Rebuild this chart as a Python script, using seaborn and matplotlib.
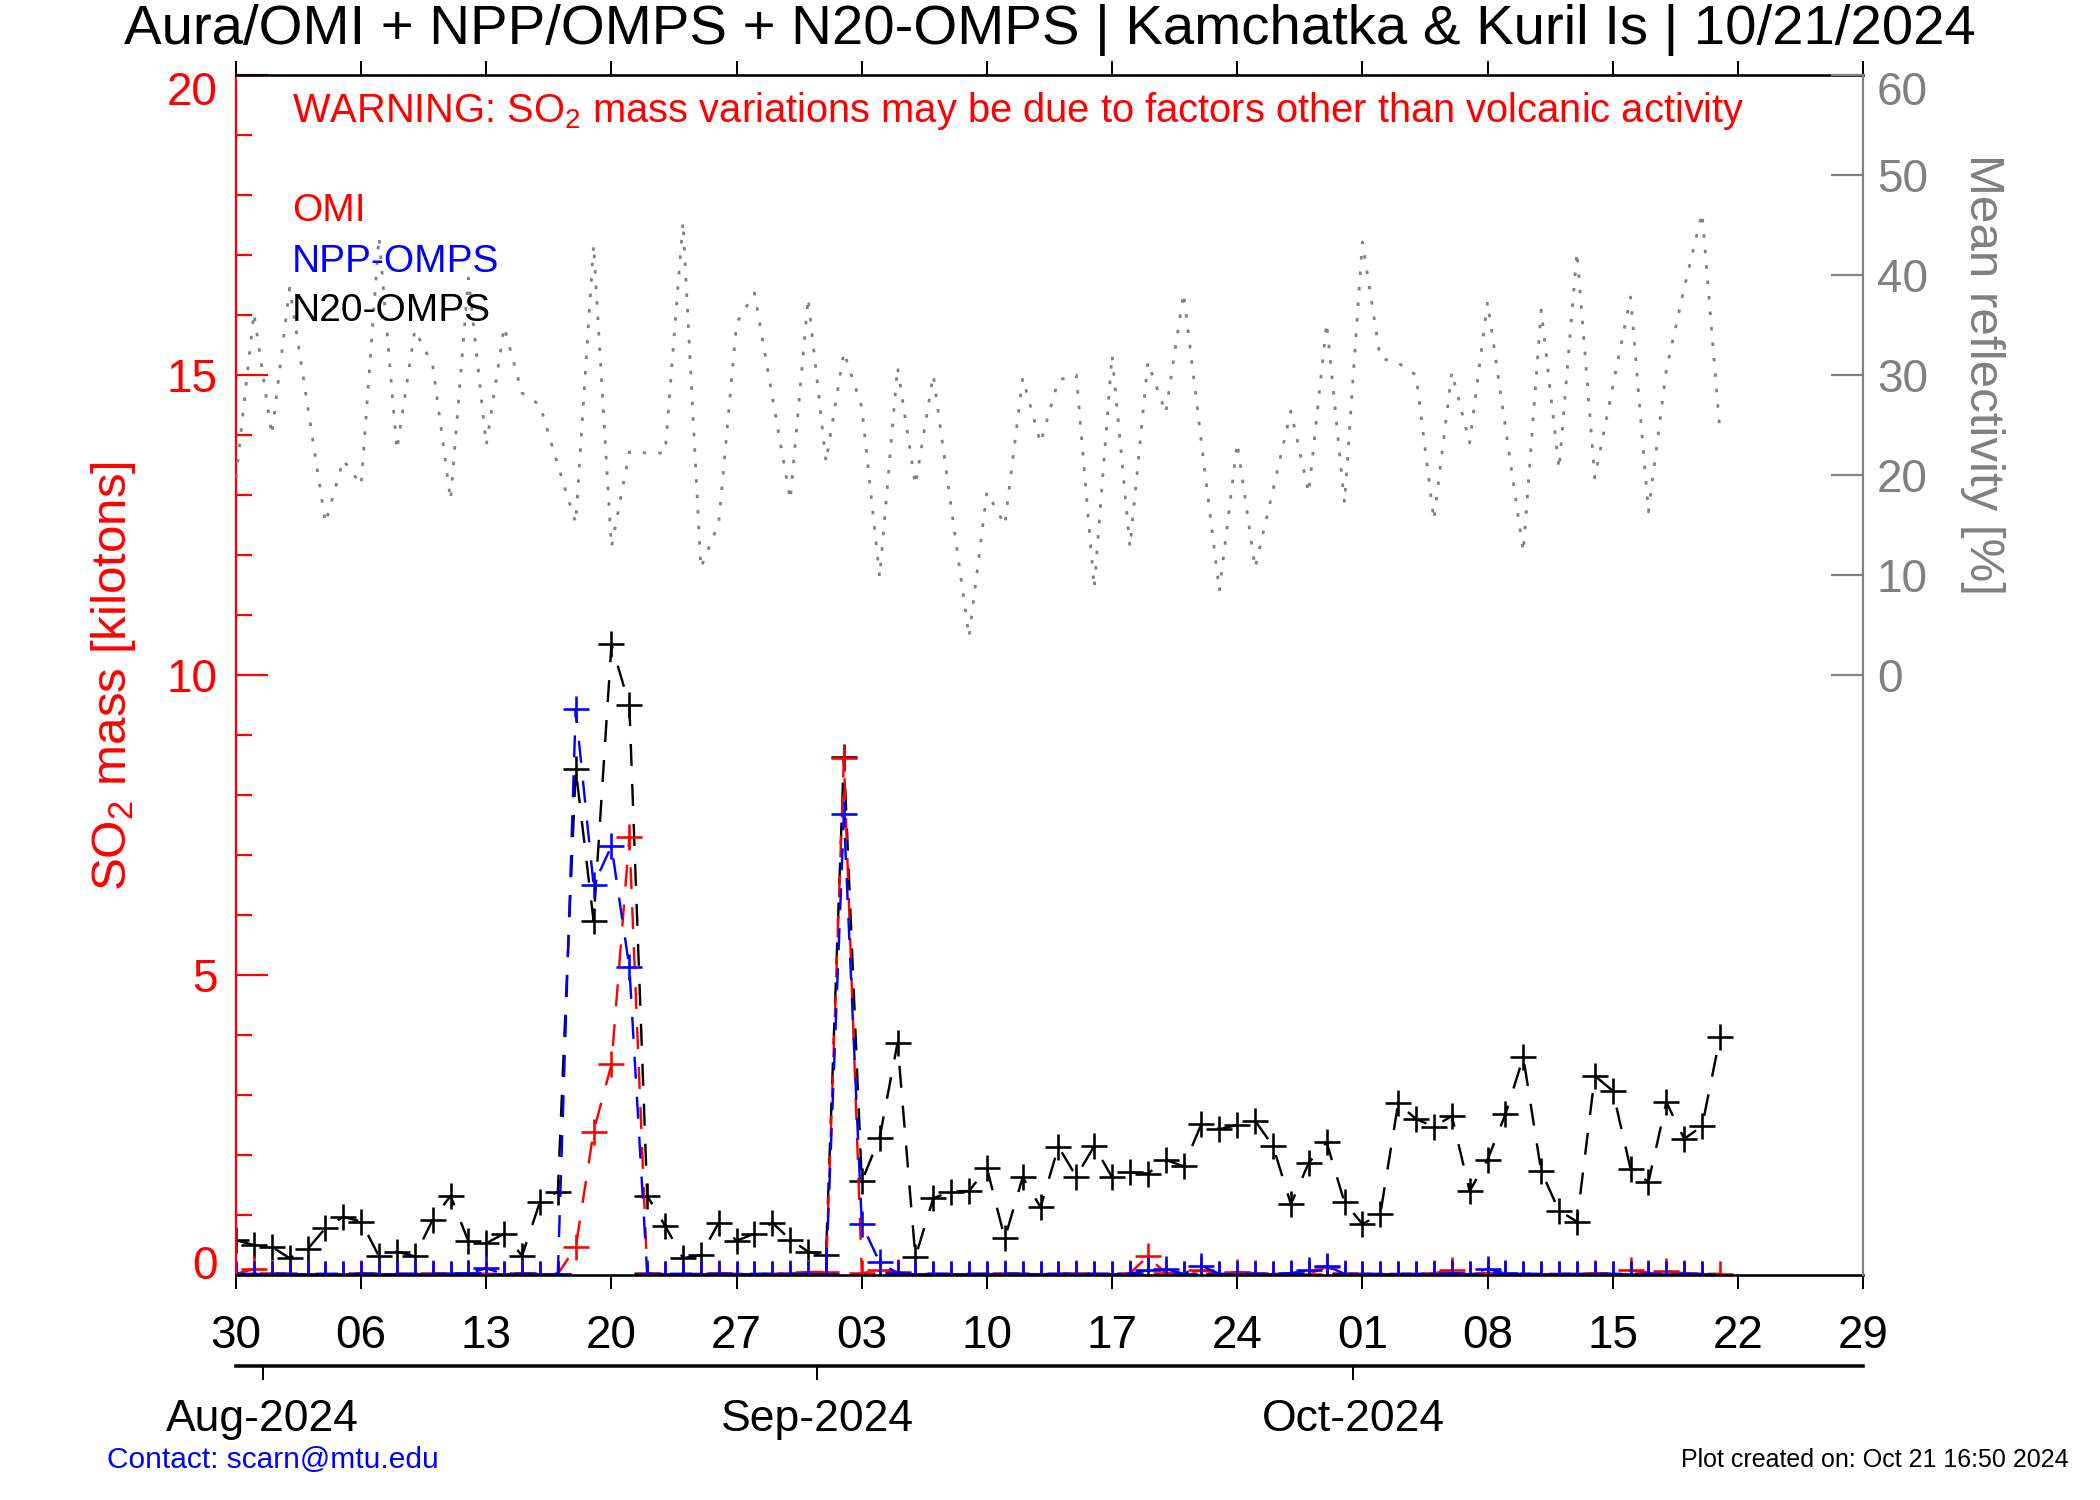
import numpy as np
import pandas as pd
import matplotlib
matplotlib.use("Agg")
import matplotlib.pyplot as plt
import matplotlib.transforms as mtransforms
from matplotlib.ticker import MultipleLocator
import seaborn as sns

# ---------------- data (day 0 = 30 Jul 2024) ----------------
days = list(range(84))

omi = [0.02, 0.10, 0.03, 0.02, 0.02, 0.01, 0.02, 0.03, 0.02, 0.02,
       0.02, 0.03, 0.02, 0.03, 0.02, 0.02, 0.03, 0.02, 0.02, 0.46,
       2.39, 3.51, 7.30, 0.03, 0.02, 0.02, 0.02, 0.03, 0.02, 0.02,
       0.02, 0.03, 0.05, 0.05, 8.62, 0.03, 0.08, 0.05, 0.02, 0.02,
       0.02, 0.02, 0.02, 0.03, 0.02, 0.02, 0.02, 0.03, 0.02, 0.02,
       0.03, 0.31, 0.03, 0.02, 0.08, 0.02, 0.05, 0.03, 0.02, 0.02,
       0.02, 0.13, 0.03, 0.02, 0.02, 0.02, 0.02, 0.03, 0.08, 0.02,
       0.03, 0.02, 0.02, 0.02, 0.02, 0.02, 0.03, 0.02, 0.08, 0.04,
       0.06, 0.03, 0.02, 0.02]

npp = [0.02, 0.02, 0.02, 0.02, 0.02, 0.02, 0.02, 0.02, 0.02, 0.02,
       0.02, 0.02, 0.02, 0.03, 0.11, 0.02, 0.02, 0.02, 0.02, 9.43,
       6.50, 7.15, 5.13, 0.02, 0.02, 0.02, 0.02, 0.02, 0.02, 0.02,
       0.02, 0.02, 0.02, 0.02, 7.68, 0.85, 0.21, 0.03, 0.02, 0.02,
       0.02, 0.02, 0.02, 0.02, 0.02, 0.02, 0.02, 0.02, 0.02, 0.02,
       0.02, 0.08, 0.10, 0.02, 0.15, 0.02, 0.02, 0.02, 0.02, 0.03,
       0.08, 0.15, 0.02, 0.02, 0.02, 0.02, 0.02, 0.02, 0.03, 0.02,
       0.10, 0.03, 0.02, 0.02, 0.02, 0.02, 0.02, 0.02, 0.02, 0.02,
       0.02, 0.02, 0.02, np.nan]

n20 = [0.58, 0.50, 0.47, 0.28, 0.43, 0.78, 0.97, 0.89, 0.31, 0.39,
       0.31, 0.92, 1.32, 0.56, 0.53, 0.69, 0.32, 1.22, 1.39, 8.43,
       5.90, 10.51, 9.50, 1.32, 0.82, 0.28, 0.33, 0.87, 0.57, 0.69,
       0.87, 0.59, 0.39, 0.33, 8.64, 1.56, 2.29, 3.87, 0.30, 1.28,
       1.39, 1.40, 1.78, 0.61, 1.63, 1.13, 2.14, 1.64, 2.15, 1.63,
       1.71, 1.69, 1.92, 1.81, 2.52, 2.43, 2.50, 2.57, 2.15, 1.18,
       1.87, 2.21, 1.21, 0.85, 1.01, 2.86, 2.60, 2.47, 2.65, 1.40,
       1.92, 2.68, 3.63, 1.73, 1.07, 0.89, 3.32, 3.07, 1.77, 1.55,
       2.88, 2.27, 2.48, 3.96]

refl = [19.7, 36.2, 24.0, 38.7, 27.0, 15.2, 21.5, 19.0, 43.8, 22.5,
        34.5, 31.0, 17.5, 39.7, 23.0, 34.8, 28.2, 27.0, 21.0, 15.2,
        43.0, 12.8, 22.3, 22.2, 22.2, 45.3, 10.7, 15.2, 35.2, 38.2,
        27.8, 17.5, 37.7, 21.3, 32.3, 26.8, 9.8, 30.8, 19.0, 30.0,
        16.8, 3.8, 18.3, 15.0, 29.7, 23.2, 29.5, 30.0, 8.7, 32.0,
        12.8, 31.3, 26.2, 38.2, 23.2, 8.4, 23.2, 10.7, 18.5, 26.4,
        18.2, 35.2, 17.2, 43.3, 31.7, 31.2, 30.0, 15.5, 30.3, 23.2,
        37.3, 24.8, 12.3, 36.5, 20.6, 42.3, 19.7, 28.8, 37.8, 16.3,
        30.5, 38.7, 46.2, 24.3]

date_tick_pos = [0, 7, 14, 21, 28, 35, 42, 49, 56, 63, 70, 77, 84, 91]
date_tick_labels = ["30", "06", "13", "20", "27", "03", "10", "17",
                    "24", "01", "08", "15", "22", "29"]
month_tick_pos = [1.5, 32.5, 62.5]
month_labels = ["Aug-2024", "Sep-2024", "Oct-2024"]
so2_ticks = [0, 5, 10, 15, 20]
refl_ticks = [0, 10, 20, 30, 40, 50, 60]

series_names = ["N20-OMPS", "OMI", "NPP-OMPS"]
series_colors = ["black", "red", "blue"]

# ---------------- style ----------------
sns.set_style("white")
plt.rcParams["font.family"] = ["Liberation Sans", "DejaVu Sans"]
plt.rcParams["mathtext.fontset"] = "custom"
plt.rcParams["mathtext.rm"] = "Liberation Sans"
plt.rcParams["mathtext.default"] = "regular"
plt.rcParams["lines.scale_dashes"] = False

W, H = 2100, 1500
PX = 72 / 100.0  # points per pixel
fig = plt.figure(figsize=(21, 15), dpi=100)
fig.patch.set_facecolor("white")


def fx(x):
    return x / W


def fy(y):
    return 1 - y / H


L, R, T, B = 236, 1863, 75, 1275
ax = fig.add_axes([L / W, 1 - B / H, (R - L) / W, (B - T) / H])
ax.set_facecolor("none")
axr = ax.twinx()
axr.set_facecolor("none")

# reflectivity (gray dotted)
sns.lineplot(x=days, y=refl, ax=axr, color="#808080", linewidth=2.8 * PX,
             linestyle=(0, (3.5 * PX, 12 * PX)), errorbar=None)

# SO2 series
data = {"N20-OMPS": n20, "OMI": omi, "NPP-OMPS": npp}
for name, col in zip(series_names, series_colors):
    sns.lineplot(x=days, y=data[name], ax=ax, color=col,
                 linewidth=2.4 * PX, linestyle=(0, (22 * PX, 18 * PX)),
                 marker="+", markersize=26 * PX,
                 markeredgewidth=2.6 * PX, markeredgecolor=col,
                 errorbar=None)

ax.set_xlim(0, 91)
ax.set_ylim(0, 20)
axr.set_ylim(-60, 60)
ax.set_xlabel("")
ax.set_ylabel("")
axr.set_xlabel("")
axr.set_ylabel("")

# x ticks
ax.set_xticks(date_tick_pos)
ax.set_xticklabels(date_tick_labels)
ax.tick_params(axis="x", which="major", direction="out", length=14 * PX,
               width=2 * PX, colors="black", top=True, bottom=True,
               labeltop=False, labelbottom=True, labelsize=33, pad=18)

# left y ticks
ax.set_yticks(so2_ticks)
ax.yaxis.set_minor_locator(MultipleLocator(1))
ax.tick_params(axis="y", which="major", direction="in", length=32 * PX,
               width=2.2 * PX, color="red", left=True, right=False,
               labelleft=True, labelright=False, labelcolor="red",
               labelsize=33, pad=13)
ax.tick_params(axis="y", which="minor", direction="in", length=16 * PX,
               width=2.2 * PX, color="red", left=True, right=False)

# right y ticks
axr.set_yticks(refl_ticks)
axr.tick_params(axis="y", which="major", direction="in", length=32 * PX,
                width=2.2 * PX, color="#808080", right=True, left=False,
                labelright=True, labelleft=False, labelcolor="#808080",
                labelsize=33, pad=10)
axr.tick_params(axis="x", which="both", bottom=False, top=False,
                labelbottom=False, labeltop=False)

# spines
for s in ["top", "bottom"]:
    ax.spines[s].set_color("black")
    ax.spines[s].set_linewidth(2.6 * PX)
ax.spines["left"].set_color("red")
ax.spines["left"].set_linewidth(2.2 * PX)
ax.spines["right"].set_visible(False)
for s in ["left", "top", "bottom"]:
    axr.spines[s].set_visible(False)
axr.spines["right"].set_color("#808080")
axr.spines["right"].set_linewidth(2.2 * PX)

# month axis
axm = fig.add_axes([L / W, 1 - 1366 / H, (R - L) / W, 1e-6])
axm.set_facecolor("none")
axm.set_xlim(0, 91)
for s in ["left", "right", "top"]:
    axm.spines[s].set_visible(False)
axm.spines["bottom"].set_linewidth(3.5 * PX)
axm.spines["bottom"].set_color("black")
axm.set_yticks([])
axm.set_xticks(month_tick_pos)
axm.set_xticklabels(month_labels)
axm.tick_params(axis="x", direction="out", length=14 * PX, width=2 * PX,
                bottom=True, top=False, labelbottom=True,
                labelsize=32, pad=14, colors="black")

# shift end labels inward like the reference
fig.canvas.draw()
shift = 13 / 100.0
for lab in ax.get_yticklabels():
    t = lab.get_text()
    if t == "20":
        lab.set_transform(lab.get_transform() + mtransforms.ScaledTranslation(0, -shift, fig.dpi_scale_trans))
    elif t == "0":
        lab.set_transform(lab.get_transform() + mtransforms.ScaledTranslation(0, shift, fig.dpi_scale_trans))
for lab in axr.get_yticklabels():
    if lab.get_text() == "60":
        lab.set_transform(lab.get_transform() + mtransforms.ScaledTranslation(0, -shift, fig.dpi_scale_trans))

# texts
fig.text(fx(784 / 0.7467), fy(30), "Aura/OMI + NPP/OMPS + N20-OMPS | Kamchatka & Kuril Is | 10/21/2024",
         ha="center", va="center", fontsize=40.6, color="black")
fig.text(fx(292), fy(111),
         "WARNING: SO$_2$ mass variations may be due to factors other than volcanic activity",
         ha="left", va="center", fontsize=28.7, color="red")
legend_y = [211, 262, 311]
legend_order = ["OMI", "NPP-OMPS", "N20-OMPS"]
legend_cols = {"OMI": "red", "NPP-OMPS": "blue", "N20-OMPS": "black"}
for yy, nm in zip(legend_y, legend_order):
    fig.text(fx(292), fy(yy), nm, ha="left", va="center", fontsize=28,
             color=legend_cols[nm])
fig.text(fx(114), fy(676), "SO$_2$ mass [kilotons]", rotation=90,
         ha="center", va="center", fontsize=35.5, color="red")
fig.text(fx(1982), fy(375), "Mean reflectivity [%]", rotation=270,
         ha="center", va="center", fontsize=35.5, color="#808080")
fig.text(fx(107), fy(1460), "Contact: scarn@mtu.edu", ha="left",
         va="center", fontsize=21.5, color="blue")
fig.text(fx(2069), fy(1460), "Plot created on: Oct 21 16:50 2024",
         ha="right", va="center", fontsize=18, color="black")

fig.savefig("out.png", dpi=100, facecolor="white")
